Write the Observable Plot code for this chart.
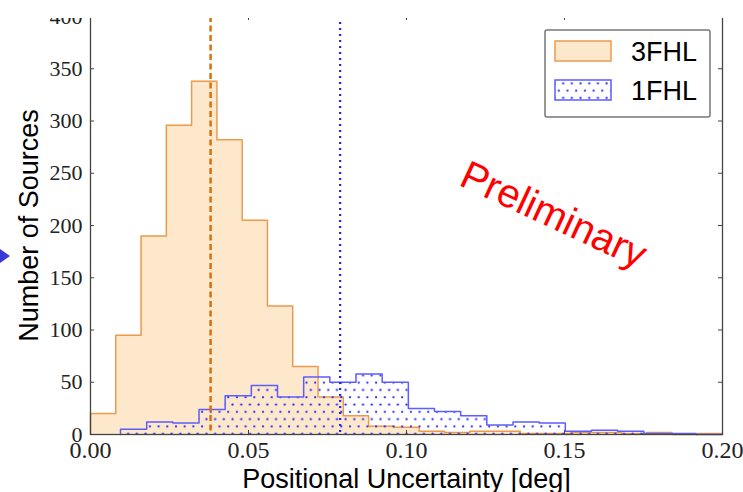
<!DOCTYPE html>
<html><head><meta charset="utf-8">
<script src="https://cdn.jsdelivr.net/npm/d3@7"></script>
<script src="https://cdn.jsdelivr.net/npm/@observablehq/plot@0.6"></script>
<style>
html,body{margin:0;padding:0;background:#fff;}
#wrap{position:relative;width:743px;height:492px;overflow:hidden;}
</style></head><body><div id="wrap"></div>
<script>
// ---- data ----
const seriesNames = ["3FHL", "1FHL"];
const fhl3Start = 0.0, fhl3Width = 0.008;
const fhl3Counts = [20, 95, 190, 296, 338, 282, 205, 123, 65, 36, 18, 8, 7, 3, 2, 3, 3, 1, 1, 2, 2, 1, 2, 0, 1];
const fhl1Start = 0.0095, fhl1Width = 0.00828;
const fhl1Counts = [5, 12, 11, 24, 37, 47, 36, 55, 50, 58, 50, 25, 22, 18, 9, 12, 11, 3, 4, 3, 1, 1, 0];
const medians = [0.038, 0.079];
const xTicks = [0, 0.05, 0.10, 0.15, 0.20];
const yTicks = [0, 50, 100, 150, 200, 250, 300, 350, 400];
const xLabel = "Positional Uncertainty [deg]";
const yLabel = "Number of Sources";
const annotation = [{label: "Preliminary", x: 0.1465, y: 210}];

function outline(start, width, counts) {
  const pts = [{x: start, y: 0}];
  counts.forEach((c, k) => pts.push({x: start + k * width, y: c}));
  pts.push({x: start + counts.length * width, y: 0});
  return pts;
}
const o3 = outline(fhl3Start, fhl3Width, fhl3Counts);
const o1 = outline(fhl1Start, fhl1Width, fhl1Counts);

const orangeFill = "#fde8cc", orangeStroke = "#ec9b4c", blueStroke = "#5c5cff", dotColor = "#2a2aff";
const serif = "'Liberation Serif', 'DejaVu Serif', serif";
const sans = "'Liberation Sans', Arial, sans-serif";
const axisColor = "#444";

const plot = Plot.plot({
  width: 743, height: 492,
  marginLeft: 90, marginRight: 21, marginTop: 16, marginBottom: 58,
  x: {domain: [0, 0.2]},
  y: {domain: [0, 400]},
  style: {background: "#fff", overflow: "visible"},
  marks: [
    Plot.areaY(o3, {x: "x", y: "y", curve: "step-after", fill: orangeFill}),
    Plot.lineY(o3, {x: "x", y: "y", curve: "step-after", stroke: orangeStroke, strokeWidth: 1.5}),
    Plot.areaY(o1, {x: "x", y: "y", curve: "step-after", fill: "url(#dots)"}),
    Plot.lineY(o1, {x: "x", y: "y", curve: "step-after", stroke: blueStroke, strokeWidth: 1.5}),
    Plot.ruleX([medians[0]], {stroke: "#d9700e", strokeWidth: 2.5, strokeDasharray: "6,3.5"}),
    Plot.ruleX([medians[1]], {stroke: "#1f1fff", strokeWidth: 2.2, strokeDasharray: "2,4"}),
    Plot.frame({stroke: axisColor, strokeWidth: 1.3}),
    Plot.ruleY(yTicks, {y: d => d, insetRight: 628, stroke: axisColor}),
    Plot.ruleY(yTicks, {y: d => d, insetLeft: 628, stroke: axisColor}),
    Plot.ruleX(xTicks, {x: d => d, insetTop: 414, stroke: axisColor}),
    Plot.ruleX(xTicks, {x: d => d, insetBottom: 414, stroke: axisColor}),
    Plot.axisY({ticks: yTicks, tickSize: 0, tickPadding: 8, label: null, tickFormat: d => String(d),
      fontSize: 22, fontFamily: serif, color: "#222"}),
    Plot.axisX({ticks: xTicks, tickSize: 0, tickPadding: 6, label: null, tickFormat: d3.format(".2f"),
      fontSize: 24, fontFamily: serif, color: "#222"}),
    Plot.text([yLabel], {text: d => d, frameAnchor: "left", dx: -53, rotate: -90, lineAnchor: "bottom",
      textAnchor: "middle", fontSize: 27, fontFamily: sans, fill: "#000"}),
    Plot.text([xLabel], {text: d => d, frameAnchor: "bottom", dy: 53, lineAnchor: "bottom",
      textAnchor: "middle", fontSize: 27, fontFamily: sans, fill: "#000"}),
    Plot.text(annotation, {x: "x", y: "y", text: "label", rotate: 25, fill: "#ff0000",
      fontSize: 40, fontFamily: sans})
  ]
});

const svg = d3.select(plot);
const defs = svg.insert("defs", ":first-child");
const pat = defs.append("pattern").attr("id", "dots").attr("patternUnits", "userSpaceOnUse")
  .attr("width", 8.7).attr("height", 14.6);
pat.append("circle").attr("cx", 2).attr("cy", 3).attr("r", 1.15).attr("fill", dotColor);
pat.append("circle").attr("cx", 6.35).attr("cy", 10.3).attr("r", 1.15).attr("fill", dotColor);

// white band covering the top edge (as in the reference)
svg.append("rect").attr("x", 0).attr("y", 0).attr("width", 743).attr("height", 18).attr("fill", "#fff");

// legend
const lg = svg.append("g");
lg.append("rect").attr("x", 545).attr("y", 30).attr("width", 165).attr("height", 87).attr("rx", 2)
  .attr("fill", "#fff").attr("stroke", "#777").attr("stroke-width", 1.5);
const swFill = [orangeFill, "url(#dots)"], swStroke = [orangeStroke, blueStroke];
seriesNames.forEach((name, i) => {
  const y = 41 + i * 39;
  lg.append("rect").attr("x", 555).attr("y", y).attr("width", 56).attr("height", 20).attr("fill", "#fff");
  lg.append("rect").attr("x", 555).attr("y", y).attr("width", 56).attr("height", 20)
    .attr("fill", swFill[i]).attr("stroke", swStroke[i]).attr("stroke-width", 1.5);
  lg.append("text").attr("x", 631).attr("y", y + 20).attr("font-size", 27).attr("font-family", sans)
    .attr("text-anchor", "start").attr("fill", "#000").text(name);
});

// slide bullet arrow on the left
svg.append("polygon").attr("points", "0,249 10,256 0,263").attr("fill", "#3838d8");

document.getElementById("wrap").appendChild(plot);
</script></body></html>
